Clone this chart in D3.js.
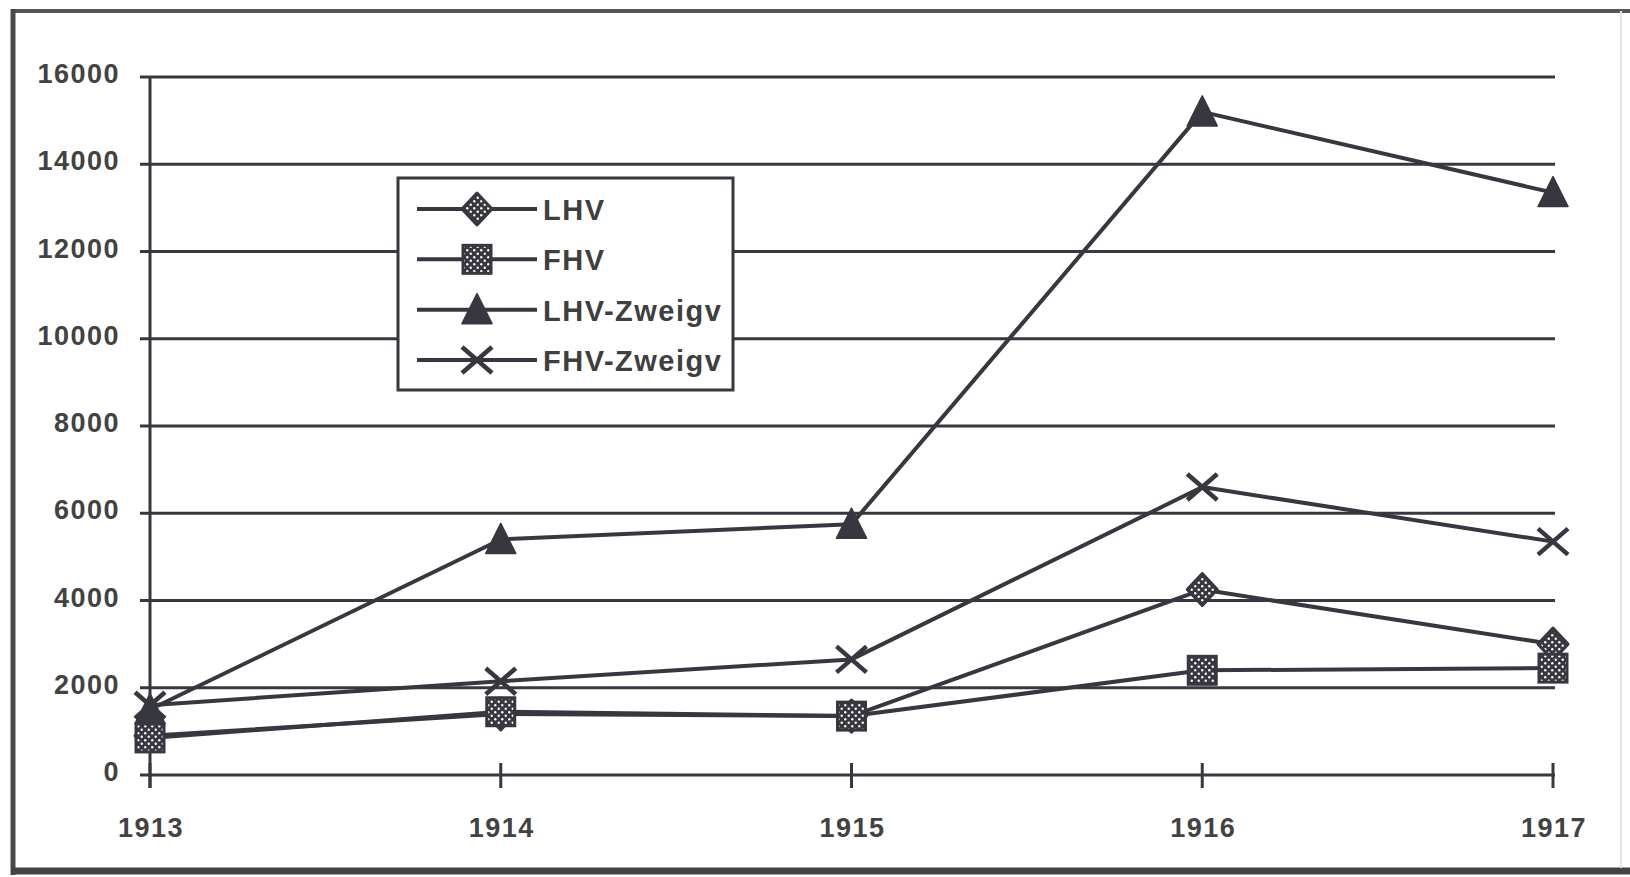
<!DOCTYPE html>
<meta charset="utf-8">
<style>
body { margin: 0; background: #fff; }
svg { display: block; }
.lbl { font: bold 27px "Liberation Sans", Arial, sans-serif; fill: #424242; letter-spacing: 1.5px; }
.leg { font: bold 29px "Liberation Sans", Arial, sans-serif; fill: #3f3f3f; letter-spacing: 1.5px; }
</style>
<svg width="1630" height="877"></svg>
<script src="https://cdn.jsdelivr.net/npm/d3@7"></script>
<script>

var years = [1913, 1914, 1915, 1916, 1917];
var yTicks = [0, 2000, 4000, 6000, 8000, 10000, 12000, 14000, 16000];

var lhv       = [900, 1400, 1350, 4250, 3000];
var fhv       = [850, 1450, 1350, 2400, 2450];
var lhvZweigv = [1500, 5400, 5750, 15200, 13350];
var fhvZweigv = [1600, 2150, 2650, 6600, 5350];

var seriesNames = ["LHV", "FHV", "LHV-Zweigv", "FHV-Zweigv"];
var seriesData = [lhv, fhv, lhvZweigv, fhvZweigv];
var seriesSymbols = ["diamond", "square", "triangle", "cross"];

var ink = "#37383f";

var svg = d3.select("svg");

var x = d3.scaleLinear().domain([1913, 1917]).range([150, 1553]);
var y = d3.scaleLinear().domain([0, 16000]).range([775, 77]);

// dotted fill for diamond / square markers
var defs = svg.append("defs");
var pat = defs.append("pattern")
    .attr("id", "dots")
    .attr("patternUnits", "userSpaceOnUse")
    .attr("width", 7).attr("height", 7);
pat.append("rect").attr("width", 7).attr("height", 7).attr("fill", ink);
pat.append("circle").attr("cx", 1.75).attr("cy", 1.75).attr("r", 1.2).attr("fill", "#fff");
pat.append("circle").attr("cx", 5.25).attr("cy", 5.25).attr("r", 1.2).attr("fill", "#fff");

// outer frame
svg.append("line").attr("x1", 13).attr("x2", 1630).attr("y1", 11).attr("y2", 11)
    .attr("stroke", "#555").attr("stroke-width", 4);
svg.append("line").attr("x1", 13).attr("x2", 13).attr("y1", 9).attr("y2", 875)
    .attr("stroke", "#4a4a4a").attr("stroke-width", 5);
svg.append("line").attr("x1", 11).attr("x2", 1630).attr("y1", 871).attr("y2", 871)
    .attr("stroke", "#444").attr("stroke-width", 7);
svg.append("line").attr("x1", 1621).attr("x2", 1621).attr("y1", 11).attr("y2", 868)
    .attr("stroke", "#e4e4e4").attr("stroke-width", 2);

// gridlines + y labels
var grid = svg.append("g");
grid.selectAll("line").data(yTicks).enter().append("line")
    .attr("x1", 140).attr("x2", 1555)
    .attr("y1", function(d) { return y(d); })
    .attr("y2", function(d) { return y(d); })
    .attr("stroke", ink).attr("stroke-width", 3);
grid.selectAll("text").data(yTicks).enter().append("text")
    .attr("class", "lbl")
    .attr("text-anchor", "end")
    .attr("x", 120)
    .attr("y", function(d) { return y(d) + 6; })
    .text(function(d) { return d; });

// y axis line
svg.append("line").attr("x1", x(1913)).attr("x2", x(1913))
    .attr("y1", y(16000)).attr("y2", 788)
    .attr("stroke", ink).attr("stroke-width", 3);

// x ticks + labels
var xa = svg.append("g");
xa.selectAll("line").data(years).enter().append("line")
    .attr("x1", function(d) { return x(d); })
    .attr("x2", function(d) { return x(d); })
    .attr("y1", 763).attr("y2", 788)
    .attr("stroke", ink).attr("stroke-width", 3);
xa.selectAll("text").data(years).enter().append("text")
    .attr("class", "lbl")
    .attr("text-anchor", "middle")
    .attr("x", function(d) { return x(d) + 1; })
    .attr("y", 837)
    .text(function(d) { return d; });

function drawMarker(g, type, cx, cy) {
  if (type == "diamond") {
    g.append("path")
      .attr("d", "M" + cx + "," + (cy - 16) + "L" + (cx + 15) + "," + cy + "L" + cx + "," + (cy + 16) + "L" + (cx - 15) + "," + cy + "Z")
      .attr("fill", "url(#dots)").attr("stroke", ink).attr("stroke-width", 3).attr("stroke-linejoin", "round");
  } else if (type == "square") {
    g.append("rect")
      .attr("x", cx - 14).attr("y", cy - 14).attr("width", 28).attr("height", 28)
      .attr("fill", "url(#dots)").attr("stroke", ink).attr("stroke-width", 3);
  } else if (type == "triangle") {
    g.append("path")
      .attr("d", "M" + cx + "," + (cy - 16) + "L" + (cx + 15) + "," + (cy + 14) + "L" + (cx - 15) + "," + (cy + 14) + "Z")
      .attr("fill", ink).attr("stroke", ink).attr("stroke-width", 1.5).attr("stroke-linejoin", "round");
  } else {
    g.append("path")
      .attr("d", "M" + (cx - 15) + "," + (cy - 13) + "L" + (cx + 15) + "," + (cy + 13) + "M" + (cx + 15) + "," + (cy - 13) + "L" + (cx - 15) + "," + (cy + 13))
      .attr("fill", "none").attr("stroke", ink).attr("stroke-width", 4.5);
  }
}

var line = d3.line()
    .x(function(d, i) { return x(years[i]); })
    .y(function(d) { return y(d); });

var plot = svg.append("g");
seriesData.forEach(function(s) {
  plot.append("path").datum(s)
    .attr("d", line)
    .attr("fill", "none")
    .attr("stroke", ink)
    .attr("stroke-width", 4)
    .attr("stroke-linejoin", "round");
});
seriesData.forEach(function(s, k) {
  s.forEach(function(v, i) {
    drawMarker(plot, seriesSymbols[k], x(years[i]), y(v));
  });
});

// legend
var leg = svg.append("g");
leg.append("rect").attr("x", 398).attr("y", 178).attr("width", 335).attr("height", 212)
    .attr("fill", "#fff").attr("stroke", ink).attr("stroke-width", 3);
var rowY = d3.scalePoint().domain(seriesNames).range([209, 360]);
seriesNames.forEach(function(n, k) {
  var ry = rowY(n);
  leg.append("line").attr("x1", 417).attr("x2", 537).attr("y1", ry).attr("y2", ry)
    .attr("stroke", ink).attr("stroke-width", 4);
  drawMarker(leg, seriesSymbols[k], 477, ry);
  leg.append("text").attr("class", "leg").attr("x", 543).attr("y", ry + 11).text(n);
});

</script>
